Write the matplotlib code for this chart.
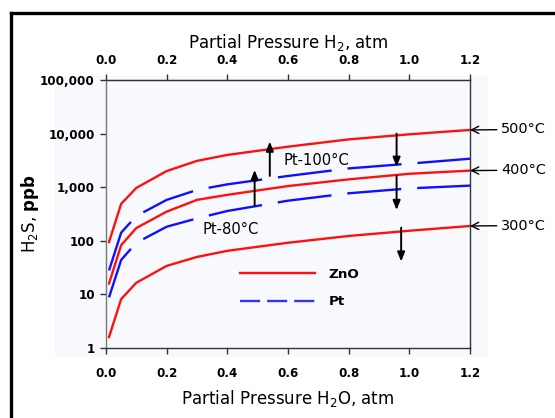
import matplotlib
matplotlib.use('Agg')
from matplotlib import pyplot as plt
from matplotlib.lines import Line2D
from matplotlib.patches import Rectangle
from matplotlib.ticker import FixedLocator, FixedFormatter

plt.rcParams['font.family'] = ['DejaVu Sans']
plt.rcParams['mathtext.default'] = 'regular'
plt.rcParams['lines.scale_dashes'] = False

# ---- data ----
p_h2o = [0.01, 0.05, 0.1, 0.2, 0.3, 0.4, 0.6, 0.8, 1.0, 1.2]
zno_500 = [95, 490, 970, 2000, 3100, 4000, 5700, 7800, 9700, 11700]
zno_400 = [16, 83, 173, 350, 580, 720, 1050, 1400, 1780, 2040]
zno_300 = [1.6, 8.2, 16.5, 34, 50, 65, 92, 123, 154, 189]
pt_100 = [28, 142, 290, 580, 890, 1130, 1620, 2240, 2750, 3400]
pt_80 = [8.8, 44, 92, 183, 262, 360, 560, 770, 950, 1070]

x_ticks = [0.0, 0.2, 0.4, 0.6, 0.8, 1.0, 1.2]
y_ticks = [1, 10, 100, 1000, 10000, 100000]
y_labels = ['1', '10', '100', '1,000', '10,000', '100,000']

temp_labels = ['500\u00b0C', '400\u00b0C', '300\u00b0C']
temp_ends = [11700, 2040, 189]

# vertical arrows: (x, y_from, y_to)
arrows = [(0.54, 1620, 7100), (0.49, 447, 2100),
          (0.958, 10000, 2400), (0.958, 1620, 375), (0.973, 176, 41)]

fig = plt.figure(figsize=(5.55, 4.18), dpi=100)
W, H = 555, 418

# faint panel and black frame (left + top)
fig.add_artist(Rectangle((55 / W, 1 - 357 / H), (488 - 55) / W, (357 - 76) / H,
                         transform=fig.transFigure, fc='#f7f9fd', ec='none', zorder=0))
fig.add_artist(Line2D([10.5 / W, 10.5 / W], [0, 1 - 12.5 / H], transform=fig.transFigure,
                      color='black', lw=2.4, solid_capstyle='projecting'))
fig.add_artist(Line2D([10.5 / W, 1], [1 - 12.5 / H, 1 - 12.5 / H], transform=fig.transFigure,
                      color='black', lw=2.4, solid_capstyle='projecting'))

ax = fig.add_axes([106 / W, 1 - 348 / H, 364 / W, 268 / H])
ax.set_facecolor('none')

dash = (0, (39, 11.5))
ax.plot(p_h2o, zno_500, color='#ff1010', lw=1.7)
ax.plot(p_h2o, zno_400, color='#ff1010', lw=1.7)
ax.plot(p_h2o, zno_300, color='#ff1010', lw=1.7)
ax.plot(p_h2o, pt_100, color='#1010ff', lw=1.7, ls=dash)
ax.plot(p_h2o, pt_80, color='#1010ff', lw=1.7, ls=dash)

ax.set_yscale('log')
ax.set_xlim(0, 1.2)
ax.set_ylim(1, 100000)
ax.xaxis.set_major_locator(FixedLocator(x_ticks))
ax.set_xticklabels(['%.1f' % t for t in x_ticks])
ax.yaxis.set_major_locator(FixedLocator(y_ticks))
ax.yaxis.set_major_formatter(FixedFormatter(y_labels))
ax.yaxis.set_minor_locator(FixedLocator([]))

for s in ax.spines.values():
    s.set_color('#333333')
    s.set_linewidth(1.0)
ax.spines['left'].set_color('#777777')
ax.tick_params(axis='x', direction='out', length=4, width=1, color='#333333',
               pad=9.5, labelsize=8.6)
ax.tick_params(axis='y', direction='out', length=4, width=1, color='#333333',
               pad=4, labelsize=8.6)
for lab in ax.get_xticklabels() + ax.get_yticklabels():
    lab.set_fontweight('bold')

top = ax.secondary_xaxis('top')
top.set_xticks(x_ticks)
top.set_xticklabels(['%.1f' % t for t in x_ticks])
top.tick_params(direction='out', length=4, width=1, color='#333333', pad=5, labelsize=8.6)
for lab in top.get_xticklabels():
    lab.set_fontweight('bold')
top.spines['top'].set_color('#222222')
top.set_xlabel('Partial Pressure H$_2$, atm', fontsize=12, labelpad=5)

ax.set_xlabel('Partial Pressure H$_2$O, atm', fontsize=12, labelpad=6)
ax.set_ylabel('H$_2$S, $\\mathbf{ppb}$', fontsize=12)
ax.yaxis.set_label_coords(-0.179, 0.5)

# arrows
for x, y0, y1 in arrows:
    ax.annotate('', xy=(x, y1), xytext=(x, y0),
                arrowprops=dict(arrowstyle='-|>,head_length=0.55,head_width=0.22',
                                color='black', lw=1.4, shrinkA=0, shrinkB=0))

# temperature labels at right
for lab, yv in zip(temp_labels, temp_ends):
    ax.annotate(lab, xy=(1.2, yv), xytext=(1.302, yv * 1.02), fontsize=10.4,
                ha='left', va='center', annotation_clip=False,
                arrowprops=dict(arrowstyle='->,head_length=0.5,head_width=0.25',
                                color='black', lw=1.0, shrinkA=1, shrinkB=0))

ax.text(0.584, 3100, 'Pt-100\u00b0C', fontsize=10.6, ha='left', va='center')
ax.text(0.318, 160, 'Pt-80\u00b0C', fontsize=10.6, ha='left', va='center')

handles = [Line2D([], [], color='#ff1010', lw=1.7),
           Line2D([], [], color='#3333ee', lw=1.7, ls=(0, (14.5, 5)))]
leg = ax.legend(handles, ['ZnO', 'Pt'], loc='upper left', bbox_to_anchor=(0.368, 0.30),
                frameon=False, handlelength=5.6, handletextpad=1.0, labelspacing=1.1,
                borderpad=0, borderaxespad=0, prop={'weight': 'bold', 'size': 9.7})

fig.savefig('out.png', dpi=100)
